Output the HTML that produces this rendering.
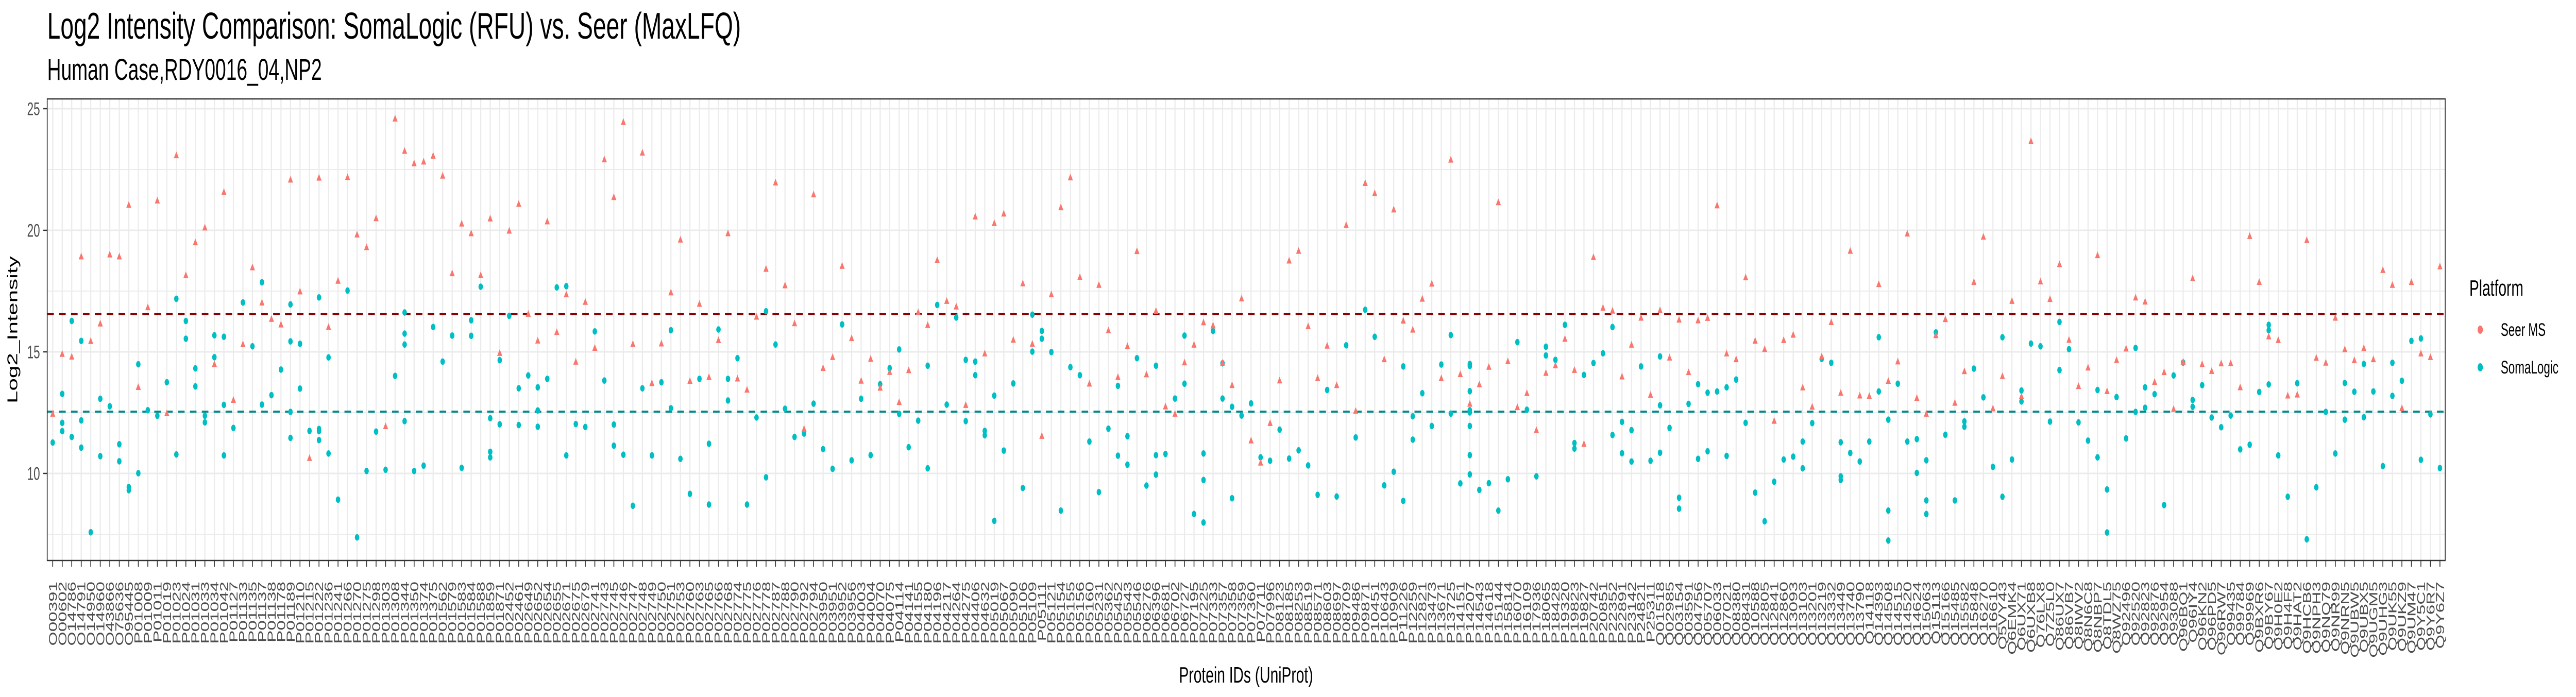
<!DOCTYPE html>
<html><head><meta charset="utf-8"><title>Log2 Intensity Comparison</title>
<style>html,body{margin:0;padding:0;background:#fff;overflow:hidden;width:100%;height:100%}svg{display:block;width:100vw;height:100vh}text{font-family:"Liberation Sans",Arial,sans-serif}</style>
</head><body>
<svg id="chart" xmlns="http://www.w3.org/2000/svg" viewBox="0 0 7800 1353" preserveAspectRatio="none">
<rect x="0" y="0" width="7800" height="1353" fill="#fff"/>
<text x="143" y="75" font-size="72" fill="#000">Log2 Intensity Comparison: SomaLogic (RFU) vs. Seer (MaxLFQ)</text>
<text x="143" y="155" font-size="58" fill="#000">Human Case,RDY0016_04,NP2</text>
<g id="grid"></g>
<g id="refs"></g>
<g id="marks"></g>
<rect x="143" y="192" width="7261" height="896" fill="none" stroke="#333" stroke-width="2.5"/>
<g id="axes"></g>
<text x="52" y="640" font-size="44" fill="#000" text-anchor="middle" transform="rotate(-90 52 640)">Log2_Intensity</text>
<text x="3773" y="1325" font-size="44" fill="#000" text-anchor="middle">Protein IDs (UniProt)</text>
<g>
<text x="7477" y="574" font-size="44" fill="#000">Platform</text>
<g><circle cx="7510" cy="640" r="8" fill="#F8766D"/><text x="7572" y="652" font-size="35" fill="#000">Seer MS</text></g>
<g><circle cx="7510" cy="713" r="8" fill="#00BFC4"/><text x="7572" y="725" font-size="35" fill="#000">SomaLogic</text></g>
</g>
</svg>
<script>
const oIds = ["O00391","O00602","O14786","O14791","O14950","O14960","O43866","O75636","O95445"];
const pIds = ["P01008","P01009","P01011","P01019","P01023","P01024","P01031","P01033","P01034","P01042",
"P01127","P01133","P01135","P01137","P01138","P01178","P01189","P01210","P01215","P01222",
"P01236","P01241","P01266","P01270","P01275","P01298","P01303","P01308","P01344","P01350",
"P01374","P01375","P01562","P01579","P01583","P01584","P01588","P01859","P01871","P02452",
"P02461","P02649","P02652","P02654","P02655","P02671","P02675","P02679","P02741","P02743",
"P02745","P02746","P02747","P02748","P02749","P02750","P02751","P02753","P02760","P02763",
"P02765","P02766","P02768","P02774","P02775","P02776","P02778","P02787","P02788","P02790",
"P02792","P02794","P03950","P03951","P03952","P03956","P04003","P04004","P04070","P04075",
"P04114","P04141","P04155","P04180","P04196","P04217","P04264","P04275","P04406","P04632",
"P05019","P05067","P05090","P05106","P05109","P05111","P05121","P05154","P05155","P05156",
"P05160","P05231","P05362","P05452","P05543","P05546","P06276","P06396","P06681","P06702",
"P06727","P07195","P07225","P07333","P07357","P07358","P07359","P07360","P07711","P07996",
"P08123","P08185","P08253","P08519","P08571","P08603","P08697","P08709","P09486","P09871",
"P10451","P10643","P10909","P11226","P12259","P12821","P13473","P13671","P13725","P14151",
"P14207","P14543","P14618","P15144","P15814","P16070","P16109","P17936","P18065","P18428",
"P19320","P19823","P19827","P20742","P20851","P22352","P22891","P23142","P24821","P25311"];
const qIds = ["Q01518","Q02985","Q03154","Q03591","Q04756","Q05707","Q06033","Q07021","Q08380","Q08431",
"Q10588","Q12805","Q12841","Q12860","Q13093","Q13103","Q13201","Q13219","Q13332","Q13449",
"Q13740","Q13790","Q14118","Q14393","Q14508","Q14515","Q14520","Q14624","Q15063","Q15113",
"Q15166","Q15485","Q15582","Q15848","Q16270","Q16610","Q5VY43","Q6EMK4","Q6UX71","Q6UXB8",
"Q76LX8","Q7Z5L0","Q86UX7","Q86VB7","Q8IWV2","Q8N6C8","Q8NBP7","Q8TDL5","Q8WZ75","Q92496",
"Q92520","Q92823","Q92876","Q92954","Q93088","Q96BQ1","Q96IY4","Q96KN2","Q96PD5","Q96RW7",
"Q99435","Q99784","Q99969","Q9BXR6","Q9BY67","Q9H0E2","Q9H4F8","Q9HAT2","Q9HCB6","Q9NPH3",
"Q9NQ79","Q9NR99","Q9NRN5","Q9UBW5","Q9UBX5","Q9UGM5","Q9UHG3","Q9UK55","Q9UKZ9","Q9UM47",
"Q9Y5C1","Q9Y6R7","Q9Y6Z7"];
const categories = oIds.concat(pIds, qIds);

const seerValues = [12.46,14.92,14.81,18.93,15.45,16.17,19.01,18.93,21.05,13.56,
16.84,21.23,12.48,23.09,18.16,19.51,20.12,14.50,21.58,13.03,
15.32,18.48,17.03,16.36,16.13,22.09,17.49,10.64,22.17,16.03,
17.93,22.19,19.83,19.31,20.50,11.95,24.60,23.27,22.76,22.83,
23.07,22.25,18.24,20.28,19.88,18.16,20.49,14.96,19.99,21.09,
16.57,15.47,20.37,15.82,17.37,14.60,17.06,15.17,22.92,21.37,
24.46,15.33,23.20,13.72,15.35,17.45,19.62,13.81,16.98,13.97,
15.49,19.88,13.91,13.45,16.45,18.42,21.97,17.74,16.18,11.84,
21.48,14.34,14.79,18.54,15.57,13.82,14.72,13.53,14.18,12.94,
14.25,16.64,16.11,18.78,17.10,16.87,12.82,20.57,14.94,20.30,
20.69,15.50,17.82,15.34,11.55,17.37,20.95,22.18,18.08,13.70,
17.76,15.89,13.97,15.24,19.15,14.08,16.69,12.76,12.46,14.57,
15.30,16.22,16.09,14.56,13.64,17.20,11.36,10.45,12.08,13.83,
18.76,19.16,16.06,13.93,15.26,13.64,20.22,12.58,21.95,21.53,
14.70,20.86,16.29,15.92,17.19,17.81,13.92,22.91,14.09,12.87,
13.67,14.39,21.16,14.62,12.73,13.31,11.79,14.14,14.45,15.54,
14.26,11.22,18.90,16.82,16.70,13.99,15.30,16.41,13.24,16.72,
14.77,16.33,14.17,16.30,16.40,21.03,14.94,14.70,18.07,15.46,
15.12,12.17,15.49,15.71,13.54,12.75,14.82,16.23,13.32,19.16,
13.21,13.19,17.79,13.81,14.61,19.87,13.11,12.46,15.69,16.35,
12.91,14.21,17.88,19.74,12.68,14.01,17.10,13.18,23.67,17.90,
17.18,18.61,15.50,13.60,14.36,18.98,13.39,14.67,15.14,17.24,
17.07,13.77,14.17,12.66,14.60,18.03,14.50,14.22,14.53,14.54,
13.55,19.77,17.88,15.64,15.49,13.21,13.25,19.60,14.76,14.56,
16.41,15.11,14.66,15.16,14.70,18.37,17.76,12.69,17.88,14.94,
14.79,18.52];

const somaValues = [[11.27],[13.27,12.08,11.74],[16.27,11.50],[15.45,12.18,11.06],[7.58],[13.07,10.71],[12.76],[11.20,10.50],[9.44,9.31],[14.49,10.01],
[12.60],[12.37],[13.75],[17.18,10.78],[16.27,15.54],[14.32,13.58],[12.37,12.10],[15.68,14.78],[15.62,12.82,10.74],[11.87],
[17.03],[15.23],[17.86,12.83],[13.22],[14.27],[16.95,15.43,12.53,11.46],[15.33,13.49],[11.75],[17.24,11.83,11.74,11.37],[14.77,10.82],
[8.92],[17.52],[7.37],[10.10],[11.72],[10.15],[14.01],[16.62,15.75,15.30,12.15],[10.10],[10.32],
[16.02],[14.60],[15.67],[10.23],[16.30,15.66],[17.68],[12.27,10.89,10.66],[14.66,12.02],[16.48],[13.50,11.99],
[14.03],[13.54,12.59,11.92],[13.89],[17.65],[17.70,10.74],[12.03],[11.91],[15.84],[13.82],[12.01,11.14],
[10.77],[8.67],[13.50],[10.74],[13.75],[15.89,12.68],[10.60],[9.16],[13.89],[11.22,8.72],
[15.92],[13.89,13.00],[14.74],[8.72],[12.30],[16.67,9.84],[15.30],[12.66],[11.50],[11.64],
[12.87],[11.00],[10.19],[16.13],[10.54],[13.07],[10.75],[13.67],[14.33],[15.10,12.45],
[11.08],[12.17],[14.43,10.21],[16.93],[12.83],[16.41],[14.67,12.15],[14.60,14.04],[11.75,11.57],[13.20,8.05],
[10.94],[13.70],[9.40],[16.53,15.01],[15.86,15.54],[14.99],[8.47],[14.37],[14.04],[11.31],
[9.23],[11.84],[13.60,10.73],[11.53,10.36],[14.74],[9.50],[14.43,10.75,9.95],[10.80],[13.08],[15.67,13.69],
[8.33],[10.82,9.73,7.98],[15.86],[14.53,13.08],[12.74,8.98],[12.38],[12.88],[10.66],[10.52],[11.80],
[10.61],[10.95],[10.33],[9.12],[13.43],[9.05],[15.27],[11.48],[16.73],[15.62],
[9.51],[10.07],[14.40,8.87],[12.35,11.39],[13.30],[11.95],[14.48],[15.69,12.46],[9.59],[14.50,14.42,13.38,12.60,12.51,11.95,10.75,9.96],
[9.32],[9.60],[8.47],[9.76],[15.40],[12.62],[9.88],[15.21,14.85],[14.67],[16.11],
[11.25,11.02],[14.05],[14.54],[14.94],[16.02,11.58],[12.12,10.83],[11.78,10.49],[14.40],[10.52],[14.81,12.80,10.85],
[11.87],[9.00,8.55],[12.86],[13.67,10.60],[13.32,10.91],[13.37],[13.54,10.72],[13.86],[12.08],[9.21],
[8.03],[9.66],[10.57],[10.69],[11.31,10.21],[12.07],[14.71],[14.55],[11.28,9.88,9.73],[10.84],
[10.49],[11.31],[15.60,13.37],[12.21,8.47,7.24],[13.69],[11.31],[11.41,10.02],[10.54,8.89,8.33],[15.80],[11.59],
[8.89],[12.14,11.92],[14.31],[13.13],[10.27],[15.60,9.04],[10.57],[13.41,12.96],[15.34],[15.23],
[12.13],[16.23,14.25],[15.11],[12.10],[11.35],[13.43,10.66],[9.34,7.57],[13.14],[11.44],[15.16,12.53],
[13.54,12.70],[13.26],[8.70],[14.03],[14.56],[13.02,12.74],[13.63],[12.30],[11.90],[12.38],
[10.99],[11.18],[13.35],[16.11,15.89,13.66],[10.74],[9.04],[13.71],[7.29],[9.43],[12.53],
[10.82],[13.72,12.21],[13.36],[14.50,12.31],[13.37],[10.30],[14.55,13.19],[13.81],[15.45],[15.55,10.56],
[12.43],[10.22]];

const meanValues = [16.55, 12.54];
const yTickValues = [10, 15, 20, 25];
const yTickLabels = ["10", "15", "20", "25"];
const yMinorValues = [7.5, 12.5, 17.5, 22.5];

const NS = "http://www.w3.org/2000/svg";
const PL = 143, PR = 7404, PT = 192, PB = 1088;
function xPos(i) { return 159.6 + i * (7388 - 159.6) / (categories.length - 1); }
function yPos(v) { return 447 - (v - 20) * 47.2; }
function mk(tag, attrs, parent) {
  const el = document.createElementNS(NS, tag);
  for (const k in attrs) el.setAttribute(k, attrs[k]);
  parent.appendChild(el);
  return el;
}
const grid = document.getElementById('grid');
const axes = document.getElementById('axes');
const refs = document.getElementById('refs');
const marks = document.getElementById('marks');

mk('rect', {x: PL, y: PT, width: PR - PL, height: PB - PT, fill: '#fff'}, grid);
yMinorValues.forEach(v => {
  const l = mk('line', {x1: PL, x2: PR, y1: yPos(v), y2: yPos(v), stroke: '#ebebeb', 'stroke-width': 2}, grid);
  
  
});
yTickValues.forEach((v, k) => {
  const l = mk('line', {x1: PL, x2: PR, y1: yPos(v), y2: yPos(v), stroke: '#ebebeb', 'stroke-width': 3}, grid);
  
  
  const t = mk('line', {x1: 131, x2: PL, y1: yPos(v), y2: yPos(v), stroke: '#333', 'stroke-width': 2.5}, axes);
  
  
  const tx = mk('text', {x: 121, y: yPos(v) + 12.5, 'font-size': 35, fill: '#4d4d4d', 'text-anchor': 'end'}, axes);
  tx.textContent = yTickLabels[k];
  
  
});
categories.forEach((c, i) => {
  const x = xPos(i);
  const g = mk('line', {x1: x, x2: x, y1: PT, y2: PB, stroke: '#ebebeb', 'stroke-width': 3.5}, grid);
  
  
  const t = mk('line', {x1: x, x2: x, y1: PB, y2: PB + 12, stroke: '#333', 'stroke-width': 2.5}, axes);
  
  
  const lx = x + 12.5, ly = 1129;
  const tx = mk('text', {x: lx, y: ly, 'font-size': 35, fill: '#4d4d4d', 'text-anchor': 'end', transform: 'rotate(-90 ' + lx + ' ' + ly + ')'}, axes);
  tx.textContent = c;
  
  
});
const m1 = mk('line', {x1: PL, x2: PR, y1: yPos(meanValues[0]), y2: yPos(meanValues[0]), stroke: '#8B0000', 'stroke-width': 4, 'stroke-dasharray': '20 16'}, refs);


const m2 = mk('line', {x1: PL, x2: PR, y1: yPos(meanValues[1]), y2: yPos(meanValues[1]), stroke: '#008B8B', 'stroke-width': 4, 'stroke-dasharray': '20 16'}, refs);



somaValues.forEach((arr, i) => {
  arr.forEach(v => {
    const c = mk('ellipse', {cx: xPos(i), cy: yPos(v), rx: 6.8, ry: 6.3, fill: '#00BFC4'}, marks);
    
    
  });
});
seerValues.forEach((v, i) => {
  const x = xPos(i), y = yPos(v);
  const p = mk('polygon', {points: x + ',' + (y - 7) + ' ' + (x + 7.7) + ',' + (y + 6) + ' ' + (x - 7.7) + ',' + (y + 6), fill: '#F8766D'}, marks);
  
  
});
</script>
</body></html>
